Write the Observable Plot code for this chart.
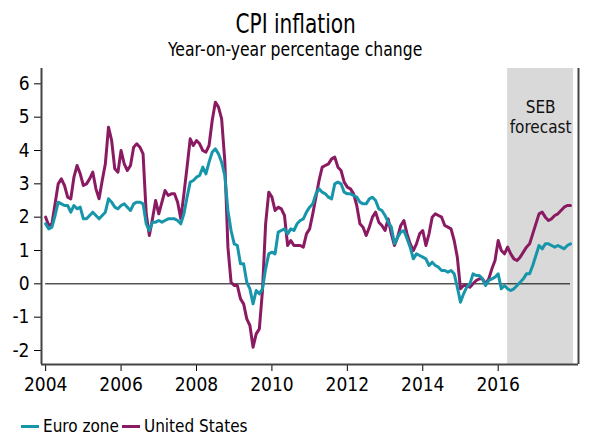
<!DOCTYPE html>
<html><head><meta charset="utf-8">
<script src="https://cdn.jsdelivr.net/npm/d3@7"></script>
<script src="https://cdn.jsdelivr.net/npm/@observablehq/plot@0.6"></script>
<style>
body{margin:0;background:#fff;font-family:"DejaVu Sans Condensed","DejaVu Sans",sans-serif;color:#000;}
#wrap{width:589px;height:436px;position:relative;overflow:hidden;}
#title{position:absolute;top:12px;left:0;width:589px;text-align:center;font-size:26px;line-height:24px;height:24px;transform:scaleX(0.86);transform-origin:303px 0;}
#subtitle{position:absolute;top:39px;left:0;width:589px;text-align:center;font-size:20px;line-height:20px;height:20px;transform:scaleX(0.87);transform-origin:300px 0;}
#chart{position:absolute;top:62px;left:0;}
#legend{position:absolute;top:418px;left:21px;font-size:17px;line-height:17px;height:17px;display:flex;align-items:center;white-space:nowrap;}
.sw{display:inline-block;width:18px;height:3px;margin-right:4px;}
.lab{margin-right:3px;}
</style></head><body>
<div id="wrap">
<div id="title">CPI inflation</div>
<div id="subtitle">Year-on-year percentage change</div>
<div id="chart"></div>
<div id="legend"></div>
</div>
<script>
const seriesNames = ["Euro zone", "United States"];
const seriesColors = ["#1796ab", "#8a1b62"];
const startYear = 2004;
const euroZone = [
  1.8, 1.65, 1.7, 2.05, 2.45, 2.4, 2.35, 2.35, 2.15, 2.35, 2.25, 2.3,
  1.95, 1.95, 2.05, 2.15, 2.05, 1.95, 2.05, 2.15, 2.55, 2.45, 2.3, 2.25,
  2.35, 2.4, 2.3, 2.2, 2.4, 2.45, 2.45, 2.4, 1.8, 1.6, 1.85, 1.85,
  1.9, 1.85, 1.9, 1.95, 1.95, 1.95, 1.9, 1.8, 2.1, 2.6, 3.05, 3.1,
  3.2, 3.25, 3.5, 3.3, 3.65, 3.95, 4.05, 3.9, 3.65, 3.25, 2.2, 1.6,
  1.2, 1.15, 0.6, 0.6, 0.05, -0.15, -0.6, -0.2, -0.3, -0.15, 0.45, 0.9,
  0.95, 0.9, 1.55, 1.6, 1.65, 1.5, 1.65, 1.6, 1.8, 1.9, 1.95, 2.15,
  2.3, 2.4, 2.7, 2.85, 2.75, 2.7, 2.6, 2.55, 3.0, 3.05, 3.0, 2.75,
  2.7, 2.7, 2.65, 2.6, 2.45, 2.4, 2.4, 2.55, 2.6, 2.5, 2.25, 2.2,
  2.05, 1.85, 1.7, 1.2, 1.4, 1.55, 1.6, 1.35, 1.1, 0.75, 0.9, 0.85,
  0.8, 0.75, 0.55, 0.65, 0.55, 0.5, 0.4, 0.4, 0.35, 0.4, 0.3, -0.1,
  -0.55, -0.3, -0.1, 0.0, 0.3, 0.25, 0.25, 0.15, -0.05, 0.1, 0.15, 0.2,
  0.3, -0.15, -0.05, -0.15, -0.2, -0.15, -0.05, 0.05, 0.15, 0.3, 0.3, 0.55,
  0.85, 1.15, 1.05, 1.2, 1.2, 1.15, 1.1, 1.15, 1.1, 1.05, 1.15, 1.2
];
const unitedStates = [
  2.0, 1.75, 1.8, 2.4, 3.0, 3.15, 2.95, 2.6, 2.55, 3.2, 3.55, 3.3,
  2.95, 3.0, 3.15, 3.35, 2.85, 2.55, 3.1, 3.6, 4.7, 4.3, 3.45, 3.35,
  4.0, 3.6, 3.4, 3.55, 4.1, 4.2, 4.1, 3.9, 2.1, 1.45, 1.95, 2.5,
  2.1, 2.45, 2.8, 2.65, 2.7, 2.7, 2.45, 1.95, 2.7, 3.5, 4.35, 4.15,
  4.3, 4.2, 4.0, 3.95, 4.15, 4.9, 5.45, 5.3, 4.95, 3.7, 1.1, 0.05,
  -0.05, -0.05, -0.45, -0.6, -1.05, -1.25, -1.9, -1.5, -1.35, -0.2, 1.8, 2.75,
  2.6, 2.2, 2.3, 2.25, 2.05, 1.15, 1.3, 1.15, 1.15, 1.15, 1.1, 1.5,
  1.65, 2.1, 2.6, 3.1, 3.5, 3.55, 3.6, 3.75, 3.8, 3.5, 3.4, 3.05,
  2.9, 2.85, 2.7, 2.35, 1.8, 1.7, 1.45, 1.7, 2.0, 2.15, 1.85, 1.75,
  1.6, 1.95, 1.5, 1.15, 1.4, 1.75, 1.9, 1.5, 1.2, 1.0, 1.2, 1.5,
  1.6, 1.15, 1.5, 2.0, 2.1, 2.05, 2.0, 1.75, 1.7, 1.65, 1.3, 0.8,
  -0.15, -0.05, -0.05, -0.1, 0.0, 0.1, 0.15, 0.15, 0.0, 0.15, 0.45, 0.7,
  1.3, 1.0, 0.9, 1.1, 0.9, 0.75, 0.7, 0.8, 0.95, 1.1, 1.2, 1.5,
  1.8, 2.1, 2.15, 2.0, 1.9, 1.95, 2.05, 2.1, 2.2, 2.3, 2.35, 2.35
];
const xTicks = [2004, 2006, 2008, 2010, 2012, 2014, 2016];
const yTicks = [-2, -1, 0, 1, 2, 3, 4, 5, 6];
const xDomain = [2003.89, 2018.13];
const yDomain = [-2.42, 6.46];
const forecastSpan = [2016.25, 2018.0];
const forecastLabel = "SEB\nforecast";

const toRows = (vals, name) => vals.map((v, i) => ({x: startYear + i / 12, y: v, s: name}));
const euroRows = toRows(euroZone, seriesNames[0]);
const usRows = toRows(unitedStates, seriesNames[1]);
const lastX = startYear + (euroZone.length - 1) / 12;

const chart = Plot.plot({
  width: 589, height: 340,
  marginLeft: 41, marginRight: 11, marginTop: 6, marginBottom: 38,
  style: {fontFamily: '"DejaVu Sans Condensed","DejaVu Sans",sans-serif', fontSize: "19px", color: "#000", background: "transparent"},
  x: {domain: xDomain, ticks: xTicks, tickFormat: d => String(d), label: null, tickSize: 7, tickPadding: 6},
  y: {domain: yDomain, ticks: yTicks, label: null, tickSize: 7, tickPadding: 5, tickFormat: d => String(d)},
  marks: [
    Plot.rect([{a: forecastSpan[0], b: forecastSpan[1], c: yDomain[0], d: yDomain[1]}], {x1: "a", x2: "b", y1: "c", y2: "d", fill: "#d9d9d9"}),
    Plot.text([forecastLabel], {x: [(forecastSpan[0] + forecastSpan[1]) / 2], frameAnchor: "top", lineAnchor: "top", dy: 30, fontSize: 17, lineHeight: 1.2, fill: "#111"}),
    Plot.ruleY([0], {x1: startYear, x2: lastX, stroke: "#000", strokeWidth: 1}),
    Plot.line(usRows, {x: "x", y: "y", stroke: seriesColors[1], strokeWidth: 3, strokeLinejoin: "round"}),
    Plot.line(euroRows, {x: "x", y: "y", stroke: seriesColors[0], strokeWidth: 3, strokeLinejoin: "round"}),
    Plot.ruleY([yDomain[0]], {stroke: "#444", strokeWidth: 2}),
    Plot.ruleX([xDomain[0]], {stroke: "#444", strokeWidth: 2}),
    Plot.ruleX([xDomain[1]], {stroke: "#444", strokeWidth: 2})
  ]
});
document.getElementById("chart").appendChild(chart);

const leg = document.getElementById("legend");
seriesNames.forEach((n, i) => {
  const sw = document.createElement("span");
  sw.className = "sw"; sw.style.background = seriesColors[i];
  const lb = document.createElement("span");
  lb.className = "lab"; lb.textContent = n;
  leg.appendChild(sw); leg.appendChild(lb);
});
</script>
</body></html>
